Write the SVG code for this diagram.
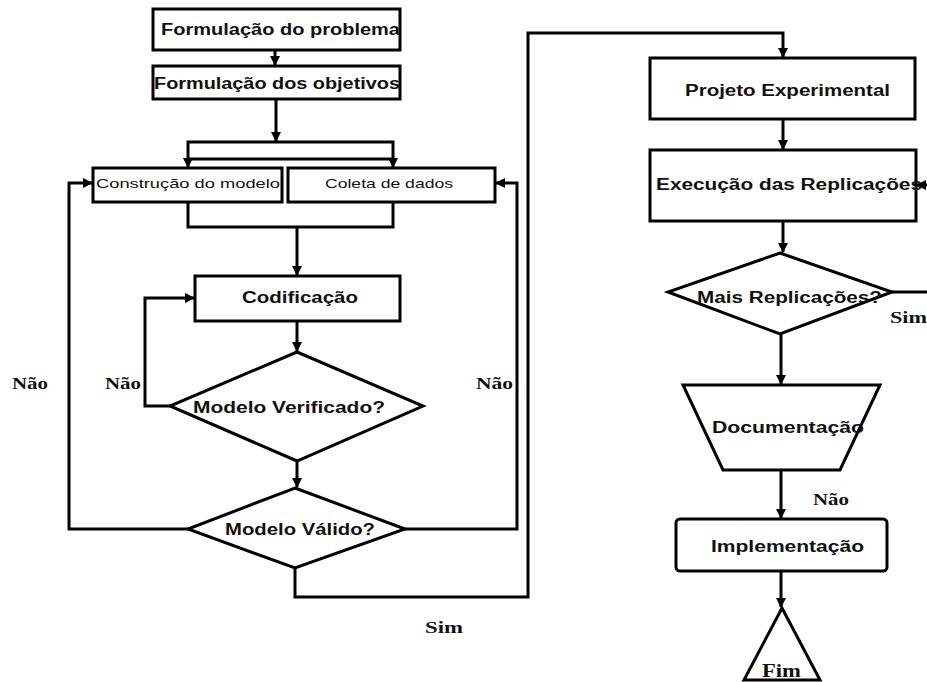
<svg xmlns="http://www.w3.org/2000/svg" width="927" height="682" viewBox="0 0 927 682">
  <style>
    .box { fill: #fff; stroke: #000; stroke-width: 3; }
    .edge { fill: none; stroke: #000; stroke-width: 3; }
    .t { font-family: "Liberation Sans", Arial, sans-serif; font-weight: bold; font-size: 16px; fill: #111; }
    .ts { font-family: "Liberation Sans", Arial, sans-serif; font-size: 13px; fill: #111; }
    .lbl { font-family: "Liberation Serif", "Times New Roman", serif; font-weight: bold; font-size: 16px; fill: #111; }
  </style>
  <defs>
    <marker id="arrow" viewBox="0 0 10 10" refX="9" refY="5" markerWidth="3.5" markerHeight="3.5" orient="auto" markerUnits="strokeWidth">
      <path d="M0,0 L10,5 L0,10 Z" fill="#000"/>
    </marker>
  </defs>

  <!-- connectors -->
  <g id="connectors">
    <path class="edge" d="M275,50 V65" marker-end="url(#arrow)"/>
    <path class="edge" d="M276,99 V141" marker-end="url(#arrow)"/>
    <path class="edge" d="M276,142 H188 V167" marker-end="url(#arrow)"/>
    <path class="edge" d="M276,142 H393 V167" marker-end="url(#arrow)"/>
    <path class="edge" d="M188,159 H393"/>
    <path class="edge" d="M188,202 V227 H393 V202"/>
    <path class="edge" d="M297,227 V275" marker-end="url(#arrow)"/>
    <path class="edge" d="M297,321 V351" marker-end="url(#arrow)"/>
    <path class="edge" d="M170,406 H145 V298 H194" marker-end="url(#arrow)"/>
    <path class="edge" d="M297,461 V487" marker-end="url(#arrow)"/>
    <path class="edge" d="M188,529 H69 V183 H92" marker-end="url(#arrow)"/>
    <path class="edge" d="M405,529 H517 V183 H496" marker-end="url(#arrow)"/>
    <path class="edge" d="M295,568 V597 H528 V33 H783 V57" marker-end="url(#arrow)"/>
    <path class="edge" d="M783,119 V149" marker-end="url(#arrow)"/>
    <path class="edge" d="M783,221 V252" marker-end="url(#arrow)"/>
    <path class="edge" d="M892,292 H940 V185 H917" marker-end="url(#arrow)"/>
    <path class="edge" d="M781,334 V384" marker-end="url(#arrow)"/>
    <path class="edge" d="M781,470 V518" marker-end="url(#arrow)"/>
    <path class="edge" d="M781,571 V607" marker-end="url(#arrow)"/>
  </g>

  <!-- nodes -->
  <g id="formulacao-problema">
    <rect class="box" x="153" y="9" width="247" height="41"/>
    <text class="t" x="161" y="35" textLength="239" lengthAdjust="spacingAndGlyphs">Formulação do problema</text>
  </g>
  <g id="formulacao-objetivos">
    <rect class="box" x="153" y="66" width="247" height="33"/>
    <text class="t" x="154" y="89" textLength="246" lengthAdjust="spacingAndGlyphs">Formulação dos objetivos</text>
  </g>
  <g id="construcao-modelo">
    <rect class="box" x="93" y="168" width="189" height="34"/>
    <text class="ts" x="96" y="188" textLength="184" lengthAdjust="spacingAndGlyphs">Construção do modelo</text>
  </g>
  <g id="coleta-dados">
    <rect class="box" x="288" y="168" width="207" height="34"/>
    <text class="ts" x="325" y="188" textLength="128" lengthAdjust="spacingAndGlyphs">Coleta de dados</text>
  </g>
  <g id="codificacao">
    <rect class="box" x="195" y="276" width="205" height="45"/>
    <text class="t" x="242" y="303" textLength="116" lengthAdjust="spacingAndGlyphs">Codificação</text>
  </g>
  <g id="modelo-verificado">
    <polygon class="box" points="297,352 423,406 297,461 170,406"/>
    <text class="t" x="193" y="413" textLength="192" lengthAdjust="spacingAndGlyphs">Modelo Verificado?</text>
  </g>
  <g id="modelo-valido">
    <polygon class="box" points="295,488 405,529 295,568 188,529"/>
    <text class="t" x="225" y="535" textLength="150" lengthAdjust="spacingAndGlyphs">Modelo Válido?</text>
  </g>
  <g id="projeto-experimental">
    <rect class="box" x="650" y="58" width="265" height="61"/>
    <text class="t" x="685" y="96" textLength="205" lengthAdjust="spacingAndGlyphs">Projeto Experimental</text>
  </g>
  <g id="execucao-replicacoes">
    <rect class="box" x="650" y="150" width="266" height="71"/>
    <text class="t" x="656" y="190" textLength="266" lengthAdjust="spacingAndGlyphs">Execução das Replicações</text>
  </g>
  <g id="mais-replicacoes">
    <polygon class="box" points="780,253 892,292 780,334 668,292"/>
    <text class="t" x="697" y="303" textLength="185" lengthAdjust="spacingAndGlyphs">Mais Replicações?</text>
  </g>
  <g id="documentacao">
    <polygon class="box" points="683,385 880,385 840,470 723,470"/>
    <text class="t" x="712" y="433" textLength="152" lengthAdjust="spacingAndGlyphs">Documentação</text>
  </g>
  <g id="implementacao">
    <rect class="box" x="676" y="519" width="211" height="52" rx="4"/>
    <text class="t" x="711" y="552" textLength="153" lengthAdjust="spacingAndGlyphs">Implementação</text>
  </g>
  <g id="fim">
    <polygon class="box" points="782,608 820,680 744,680"/>
    <text class="lbl" x="762" y="677" textLength="39" lengthAdjust="spacingAndGlyphs" style="font-size:18px">Fim</text>
  </g>

  <!-- branch labels -->
  <g id="labels">
    <text class="lbl" x="12" y="389" textLength="36" lengthAdjust="spacingAndGlyphs">Não</text>
    <text class="lbl" x="105" y="389" textLength="36" lengthAdjust="spacingAndGlyphs">Não</text>
    <text class="lbl" x="476" y="389" textLength="37" lengthAdjust="spacingAndGlyphs">Não</text>
    <text class="lbl" x="425" y="633" textLength="38" lengthAdjust="spacingAndGlyphs">Sim</text>
    <text class="lbl" x="890" y="323" textLength="37" lengthAdjust="spacingAndGlyphs">Sim</text>
    <text class="lbl" x="813" y="505" textLength="36" lengthAdjust="spacingAndGlyphs">Não</text>
  </g>
</svg>
